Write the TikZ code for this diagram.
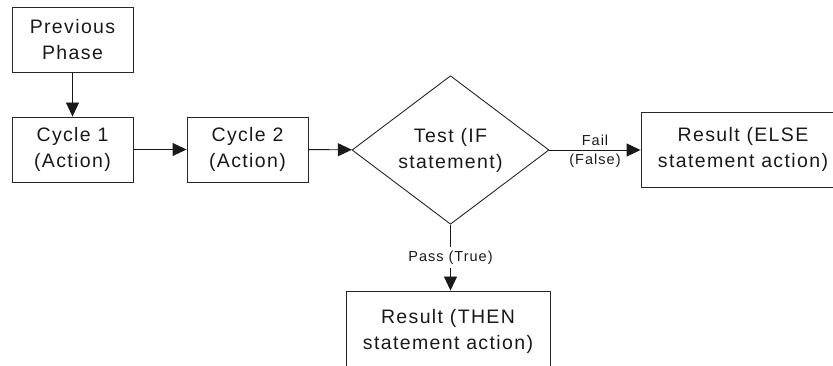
\documentclass[tikz,border=0pt]{standalone}
\usepackage{fontspec}
\setmainfont[LetterSpace=7]{Liberation Sans}
\usetikzlibrary{arrows.meta,shapes.geometric}
\tikzset{
  box/.style={draw=black!85, line width=0.9pt, minimum width=121pt, minimum height=65pt, inner sep=0pt, align=center, font=\fontsize{19.5}{26}\selectfont, text=black!90},
  wide/.style={box, minimum width=204pt},
  decision/.style={draw=black!85, line width=0.9pt, diamond, minimum width=197pt, minimum height=130pt, inner sep=0pt, align=center, font=\fontsize{19.5}{26}\selectfont, text=black!90},
  conn/.style={line width=0.9pt, draw=black!90, -{Triangle[length=14pt,width=13pt]}},
  lbl/.style={font=\fontsize{14.5}{17}\selectfont, text=black!90, inner sep=3.5pt}
}
\begin{document}
\begin{tikzpicture}[x=1pt,y=-1pt]
\useasboundingbox (0,0) rectangle (833,366);
\clip (0,0) rectangle (833,366);
\node[box] (prev) at (72.5,40) {Previous\\Phase};
\node[box] (c1) at (72.5,149.5) {Cycle 1\\(Action)};
\node[box] (c2) at (247.5,149.5) {Cycle 2\\(Action)};
\node[decision] (test) at (450.5,150) {Test (IF\\statement)};
\node[wide, minimum height=75pt] (else) at (743,149.5) {Result (ELSE\\statement action)};
\node[wide, minimum height=80pt] (then) at (448,331) {Result (THEN\\statement action)};
\draw[conn] (prev) -- (c1);
\draw[conn] (c1) -- (c2);
\draw[conn] (c2) -- (test);
\draw[conn] (test.east) -- node[lbl, above] (fail) {Fail} node[lbl, below] (false) {(False)} (else.west |- test.east);
\draw[conn] (test.south) -- node[lbl, fill=white] (pass) {Pass (True)} (test.south |- then.north);
\end{tikzpicture}
\end{document}
